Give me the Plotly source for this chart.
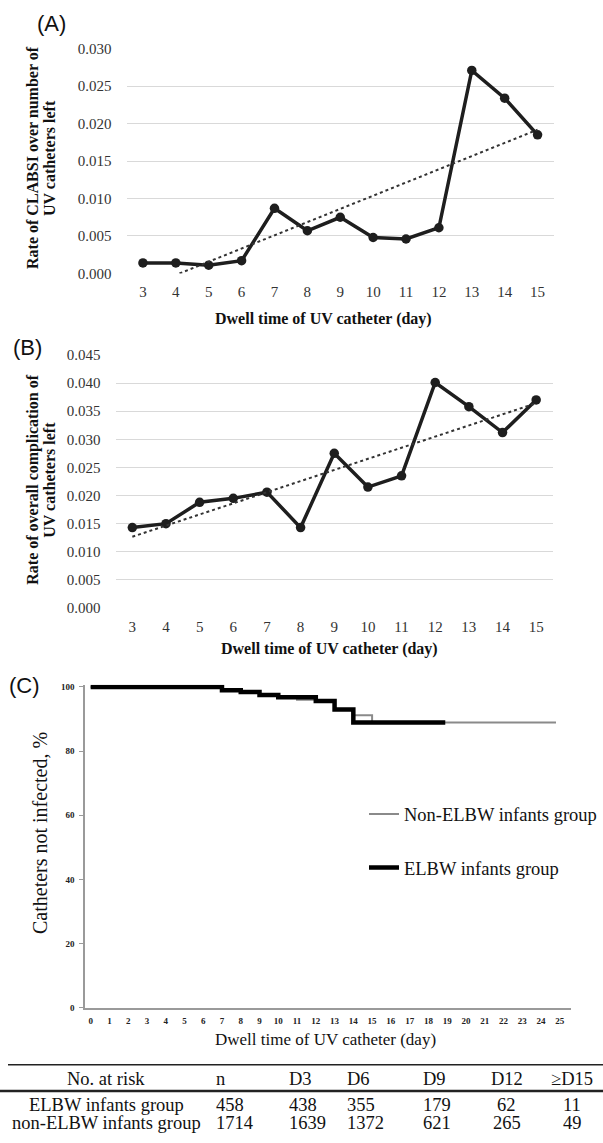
import numpy as np
import plotly.graph_objects as go

# ---------------- data ----------------
days = [3, 4, 5, 6, 7, 8, 9, 10, 11, 12, 13, 14, 15]
clabsi_rate = [0.0014, 0.0014, 0.0011, 0.0017, 0.0087, 0.0057, 0.0075,
               0.0048, 0.0046, 0.0061, 0.0271, 0.0234, 0.0185]
overall_rate = [0.0143, 0.0150, 0.0188, 0.0195, 0.0206, 0.0143, 0.0275,
                0.0215, 0.0235, 0.0401, 0.0358, 0.0312, 0.0370]

elbw_t = [0, 7, 8, 9, 10, 12, 13, 14, 18.9]
elbw_s = [100, 99.0, 98.4, 97.5, 96.8, 95.6, 93.0, 88.9, 88.9]
non_t = [0, 6, 7, 8, 9, 10, 11, 12, 13, 14, 15, 24.8]
non_s = [100, 99.7, 99.0, 98.4, 97.5, 96.8, 96.0, 95.6, 93.0, 91.2, 88.9, 88.9]

table_header = ["No. at risk", "n", "D3", "D6", "D9", "D12", "\u2265D15"]
table_rows = [
    ["ELBW infants group", "458", "438", "355", "179", "62", "11"],
    ["non-ELBW infants group", "1714", "1639", "1372", "621", "265", "49"],
]

W, H = 603, 1143
SERIF = "Liberation Serif"
SANS = "Liberation Sans"


def px(x):
    return x / W


def py(y):
    return 1 - y / H


fig = go.Figure()

# ---------------- panel A ----------------
fig.add_trace(go.Scatter(x=days, y=clabsi_rate, mode="lines+markers",
                         line=dict(color="#1e1e1e", width=3.5),
                         marker=dict(size=9.5, color="#1e1e1e"),
                         xaxis="x", yaxis="y", showlegend=False))
sa, ia = np.polyfit(days, clabsi_rate, 1)
x0a = max(days[0], -ia / sa)
fig.add_trace(go.Scatter(x=[x0a, days[-1]], y=[sa * x0a + ia, sa * days[-1] + ia],
                         mode="lines", line=dict(color="#333333", width=2, dash="dot"),
                         xaxis="x", yaxis="y", showlegend=False))

# ---------------- panel B ----------------
fig.add_trace(go.Scatter(x=days, y=overall_rate, mode="lines+markers",
                         line=dict(color="#1e1e1e", width=3.5),
                         marker=dict(size=9.5, color="#1e1e1e"),
                         xaxis="x2", yaxis="y2", showlegend=False))
sb, ib = np.polyfit(days, overall_rate, 1)
fig.add_trace(go.Scatter(x=[days[0], days[-1]], y=[sb * days[0] + ib, sb * days[-1] + ib],
                         mode="lines", line=dict(color="#333333", width=2, dash="dot"),
                         xaxis="x2", yaxis="y2", showlegend=False))

# ---------------- panel C ----------------
fig.add_trace(go.Scatter(x=non_t, y=non_s, mode="lines", line_shape="hv",
                         line=dict(color="#8a8a8a", width=2),
                         name="Non-ELBW infants group", legend="legend",
                         xaxis="x3", yaxis="y3"))
fig.add_trace(go.Scatter(x=elbw_t, y=elbw_s, mode="lines", line_shape="hv",
                         line=dict(color="#000000", width=4.5),
                         name="ELBW infants group", legend="legend2",
                         xaxis="x3", yaxis="y3"))

grid = "#d9d9d9"
tickfont_ab = dict(family=SERIF, size=15, color="#333333")

fig.update_layout(
    width=W, height=H, autosize=False,
    margin=dict(l=0, r=0, t=0, b=0),
    paper_bgcolor="white", plot_bgcolor="white",
    # A
    xaxis=dict(domain=[px(126.5), px(554)], range=[2.5, 15.5], tickmode="array",
               tickvals=days, showgrid=False, zeroline=False, showline=False,
               ticks="", tickfont=tickfont_ab, ticklabelstandoff=8),
    yaxis=dict(domain=[py(270), py(41.5)], range=[0, 0.0301], tickmode="array",
               tickvals=[0, 0.005, 0.010, 0.015, 0.020, 0.025, 0.030],
               tickformat=".3f", showgrid=True, gridcolor=grid, gridwidth=1.3,
               zeroline=False, showline=False, ticks="", tickfont=tickfont_ab,
               ticklabelstandoff=14),
    # B
    xaxis2=dict(domain=[px(115.5), px(553)], range=[2.5, 15.5], tickmode="array",
                tickvals=days, showgrid=False, zeroline=False, showline=False,
                ticks="", tickfont=tickfont_ab, ticklabelstandoff=8, anchor="y2"),
    yaxis2=dict(domain=[py(609), py(352)], range=[0, 0.0451], tickmode="array",
                tickvals=[0, 0.005, 0.010, 0.015, 0.020, 0.025, 0.030, 0.035, 0.040, 0.045],
                tickformat=".3f", showgrid=True, gridcolor=grid, gridwidth=1.3,
                zeroline=False, showline=False, ticks="", tickfont=tickfont_ab,
                ticklabelstandoff=14, anchor="x2"),
    # C
    xaxis3=dict(domain=[px(85), px(571)], range=[-0.3, 25.6], tickmode="array",
                tickvals=list(range(26)), showgrid=False, zeroline=False,
                showline=True, linecolor="#9a9a9a", linewidth=1.5, ticks="",
                tickfont=dict(family=SERIF, size=9, color="#222222", weight="bold"),
                ticklabelstandoff=4, anchor="y3"),
    yaxis3=dict(domain=[py(1014), py(686.7)], range=[0, 100.7], tickmode="array",
                tickvals=[0, 20, 40, 60, 80, 100], showgrid=False, zeroline=False,
                showline=True, linecolor="#9a9a9a", linewidth=1.5, ticks="outside",
                ticklen=4, tickcolor="#9a9a9a",
                tickfont=dict(family=SERIF, size=9, color="#222222", weight="bold"),
                ticklabelstandoff=3, anchor="x3"),
    legend=dict(x=px(364), y=py(818.3), xanchor="left", yanchor="middle",
                font=dict(family=SERIF, size=18.5, color="#111111"),
                bgcolor="rgba(0,0,0,0)", borderwidth=0, itemwidth=30),
    legend2=dict(x=px(364), y=py(872.3), xanchor="left", yanchor="middle",
                 font=dict(family=SERIF, size=18.5, color="#111111"),
                 bgcolor="rgba(0,0,0,0)", borderwidth=0, itemwidth=30),
)

ann = []


def add_text(text, x, y, size, family=SERIF, bold=False, angle=0, xanchor="center",
             color="#111111"):
    ann.append(dict(text=text, x=px(x), y=py(y), xref="paper", yref="paper",
                    showarrow=False, textangle=angle, xanchor=xanchor, yanchor="middle",
                    font=dict(family=family, size=size, color=color,
                              weight="bold" if bold else "normal")))


# panel labels
add_text("(A)", 51.5, 17, 22, family=SANS)
add_text("(B)", 28, 345, 22, family=SANS)
add_text("(C)", 24.5, 687.5, 22, family=SANS)

# axis titles A
add_text("Rate of CLABSI over number of", 33, 153, 16, bold=True, angle=-90)
add_text("UV catheters left", 50, 153, 16, bold=True, angle=-90)
add_text("Dwell time of UV catheter (day)", 323, 316, 16, bold=True)
# axis titles B
add_text("Rate of overall complication of", 33, 479, 16, bold=True, angle=-90)
add_text("UV catheters left", 50, 479, 16, bold=True, angle=-90)
add_text("Dwell time of UV catheter (day)", 329, 651, 16, bold=True)
# axis titles C
add_text("Catheters not infected, %", 40, 837, 20, angle=-90)
add_text("Dwell time of UV catheter (day)", 325, 1046.5, 17)

# table
col_x = [106, 214, 287, 345, 421, 507, 572]
col_anchor = ["center", "left", "left", "left", "left", "center", "center"]
row_y = [1086.7, 1112.3, 1130.5]
for j, t in enumerate(table_header):
    add_text(t, col_x[j], row_y[0], 18.5, xanchor=col_anchor[j])
for i, row in enumerate(table_rows):
    for j, t in enumerate(row):
        add_text(t, col_x[j], row_y[i + 1], 18.5, xanchor=col_anchor[j])

fig.update_layout(annotations=ann)

fig.add_shape(type="line", xref="paper", yref="paper", x0=px(8), x1=1,
              y0=py(1071.7), y1=py(1071.7), line=dict(color="#222222", width=1.5))
fig.add_shape(type="line", xref="paper", yref="paper", x0=0, x1=1,
              y0=py(1098.3), y1=py(1098.3), line=dict(color="#222222", width=2.5))

fig.write_html(
    "out.html",
    config={"displayModeBar": False},
    post_script="document.body.style.margin='0px';document.body.style.overflow='hidden';",
)
